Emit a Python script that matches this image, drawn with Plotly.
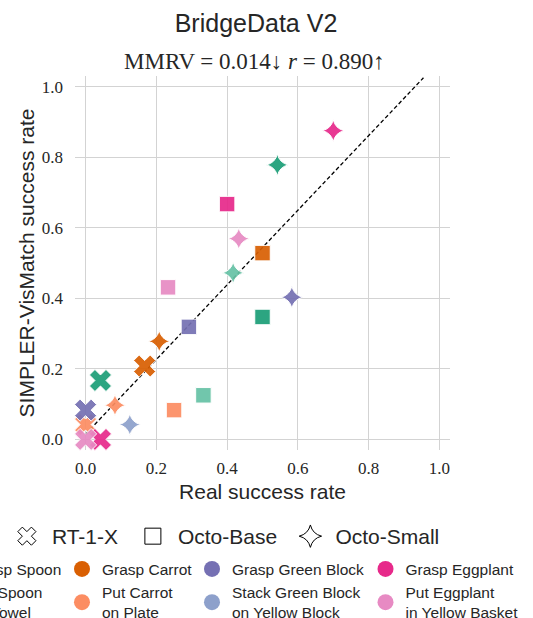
import plotly.graph_objects as go

# ---------------- data ----------------
tasks = ["Grasp Spoon", "Put Spoon<br>on Towel", "Grasp Carrot", "Put Carrot<br>on Plate",
         "Grasp Green Block", "Stack Green Block<br>on Yellow Block", "Grasp Eggplant",
         "Put Eggplant<br>in Yellow Basket"]
task_colors = ["#1b9e77", "#66c2a5", "#d95f02", "#fc8d62",
               "#7570b3", "#8da0cb", "#e7298a", "#e78ac3"]
policies = ["RT-1-X", "Octo-Base", "Octo-Small"]

rt1x_real = [0.042, None, 0.167, 0.0, 0.0, None, 0.042, 0.0]
rt1x_sim = [0.167, None, 0.208, 0.042, 0.083, None, 0.0, 0.0]
octo_base_real = [0.5, 0.333, 0.5, 0.25, 0.292, None, 0.4, 0.233]
octo_base_sim = [0.347, 0.125, 0.528, 0.083, 0.319, None, 0.667, 0.431]
octo_small_real = [0.542, 0.417, 0.208, 0.083, 0.583, 0.125, 0.7, 0.433]
octo_small_sim = [0.778, 0.472, 0.278, 0.097, 0.403, 0.042, 0.875, 0.569]

fit_x = [0.0, 0.955]
fit_y = [0.015, 1.025]

x_ticks = [0.0, 0.2, 0.4, 0.6, 0.8, 1.0]
y_ticks = [0.0, 0.2, 0.4, 0.6, 0.8, 1.0]

title_text = "BridgeData V2"
subtitle_text = "MMRV = 0.014\u2193 <i>r</i> = 0.890\u2191"

# ---------------- styles ----------------
SANS = "Liberation Sans, Arial, sans-serif"
SERIF = "Liberation Serif, Times New Roman, serif"
TXT = "#262626"
W, H = 533, 618
symbols = {"RT-1-X": "x", "Octo-Base": "square", "Octo-Small": "star-diamond"}
sizes = {"RT-1-X": 19.5, "Octo-Base": 15.5, "Octo-Small": 15.5}
policy_data = {
    "RT-1-X": (rt1x_real, rt1x_sim),
    "Octo-Base": (octo_base_real, octo_base_sim),
    "Octo-Small": (octo_small_real, octo_small_sim),
}

fig = go.Figure()

fig.add_trace(go.Scatter(x=fit_x, y=fit_y, mode="lines",
                         line=dict(color="black", width=1.3, dash="4px,2.5px"),
                         showlegend=False, hoverinfo="skip"))

for ti, task in enumerate(tasks):
    for pol in policies:
        xr, ys = policy_data[pol]
        if xr[ti] is None:
            continue
        fig.add_trace(go.Scatter(
            x=[xr[ti]], y=[ys[ti]], mode="markers",
            marker=dict(symbol=symbols[pol], size=sizes[pol], color=task_colors[ti],
                        opacity=0.92, line=dict(color="white", width=1)),
            showlegend=False, cliponaxis=False,
            name=f"{task} / {pol}"))

# shape legend (legend)
shape_widths = [71, 102.5, 108]
for pol, w in zip(policies, shape_widths):
    fig.add_trace(go.Scatter(
        x=[None], y=[None], mode="markers", name=pol, legend="legend",
        legendwidth=w,
        marker=dict(symbol=symbols[pol] + "-open", size=16, color="black",
                    line=dict(color="black", width=1))))

# color legends: 4 columns (legend2..legend5)
col_x = [-0.3867, -0.0347, 0.312, 0.7747]
for ti, task in enumerate(tasks):
    col = ti // 2
    fig.add_trace(go.Scatter(
        x=[None], y=[None], mode="markers", name=task, legend=f"legend{col + 2}",
        marker=dict(symbol="circle", size=16, color=task_colors[ti])))

legend_common = dict(bgcolor="rgba(0,0,0,0)", borderwidth=0, xref="paper", yref="paper")
layout_legends = {}
layout_legends["legend"] = dict(orientation="h", x=-0.195, y=-0.1765, xanchor="left",
                                yanchor="top", itemwidth=40,
                                font=dict(family=SANS, size=21, color=TXT), **legend_common)
for c in range(4):
    layout_legends[f"legend{c + 2}"] = dict(orientation="v", x=col_x[c], y=-0.2737,
                                            xanchor="left", yanchor="top", itemwidth=30,
                                            font=dict(family=SANS, size=15.5, color=TXT),
                                            **legend_common)

axis_common = dict(range=[-0.03, 1.03], showgrid=True, gridcolor="#d3d3d3", gridwidth=1.3,
                   zeroline=False, showline=False, ticks="",
                   tickfont=dict(family=SERIF, size=17, color=TXT),
                   tickformat=".1f", fixedrange=True)

fig.update_layout(
    width=W, height=H,
    margin=dict(l=75, r=83, t=76, b=168, pad=0, autoexpand=False),
    paper_bgcolor="white", plot_bgcolor="white",
    title=dict(text=title_text, x=256 / W, xanchor="center", y=1 - 23.5 / H, yanchor="middle",
               xref="container", yref="container",
               font=dict(family=SANS, size=25, color=TXT)),
    xaxis=dict(tickvals=x_ticks, ticklabelstandoff=6,
               title=dict(text="Real success rate", standoff=7,
                          font=dict(family=SANS, size=21, color=TXT)),
               **axis_common),
    yaxis=dict(tickvals=y_ticks, ticklabelstandoff=11,
               title=dict(text="SIMPLER-VisMatch success rate", standoff=1,
                          font=dict(family=SANS, size=21, color=TXT)),
               **axis_common),
    annotations=[dict(text=subtitle_text, xref="paper", yref="paper",
                      x=(254 - 75) / 375, y=(450 - 61) / 374, xanchor="center",
                      yanchor="middle", showarrow=False,
                      font=dict(family=SERIF, size=23, color=TXT))],
    showlegend=True,
    **layout_legends,
)

fig.write_html("out.html",
               config={"displayModeBar": False},
               post_script="document.body.style.margin='0';document.body.style.overflow='hidden';")
